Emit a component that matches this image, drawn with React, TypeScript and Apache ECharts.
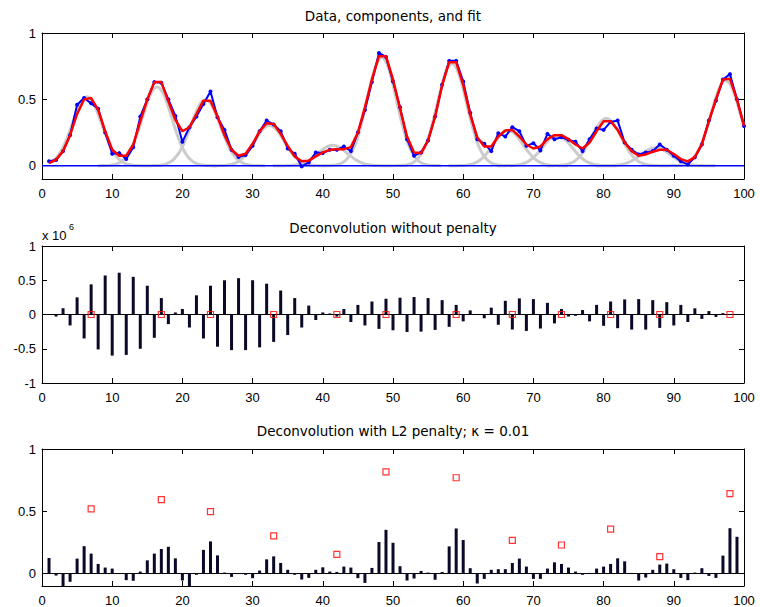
import React, { useEffect, useRef } from "react";
import * as echarts from "echarts";

const FONT = '"Liberation Sans", Arial, Helvetica, sans-serif';
const TITLE_FONT = '"DejaVu Sans", "Liberation Sans", Arial, sans-serif';

// x positions of samples
const sampleX = Array.from({ length: 100 }, (_, i) => i + 1);

// Panel 1: measured data (blue)
const dataValues = [
  0.033, 0.043, 0.11, 0.23, 0.46, 0.51, 0.47, 0.43, 0.25, 0.09,
  0.095, 0.05, 0.14, 0.37, 0.5, 0.63, 0.625, 0.5, 0.375, 0.18,
  0.29, 0.37, 0.465, 0.56, 0.365, 0.27, 0.12, 0.065, 0.08, 0.15,
  0.26, 0.34, 0.31, 0.26, 0.13, 0.09, -0.005, 0.025, 0.1, 0.095,
  0.12, 0.12, 0.145, 0.11, 0.25, 0.42, 0.63, 0.85, 0.82, 0.635,
  0.44, 0.2, 0.075, 0.1, 0.19, 0.37, 0.61, 0.79, 0.79, 0.635,
  0.4, 0.2, 0.165, 0.11, 0.245, 0.22, 0.29, 0.26, 0.15, 0.17,
  0.115, 0.24, 0.2, 0.215, 0.195, 0.18, 0.11, 0.2, 0.28, 0.27,
  0.33, 0.34, 0.175, 0.12, 0.085, 0.1, 0.11, 0.16, 0.12, 0.075,
  0.033, 0.01, 0.063, 0.16, 0.34, 0.49, 0.65, 0.69, 0.5, 0.3,
];

// Panel 1: fit (red)
const fitValues = [
  0.02, 0.045, 0.11, 0.23, 0.39, 0.5, 0.51, 0.42, 0.26, 0.12,
  0.075, 0.075, 0.16, 0.335, 0.5, 0.63, 0.63, 0.485, 0.345, 0.26,
  0.29, 0.39, 0.49, 0.49, 0.37, 0.23, 0.12, 0.075, 0.09, 0.165,
  0.26, 0.32, 0.315, 0.24, 0.15, 0.07, 0.033, 0.038, 0.07, 0.1,
  0.12, 0.125, 0.125, 0.14, 0.25, 0.44, 0.65, 0.825, 0.825, 0.65,
  0.43, 0.22, 0.1, 0.095, 0.19, 0.37, 0.605, 0.78, 0.78, 0.61,
  0.385, 0.215, 0.145, 0.145, 0.22, 0.265, 0.27, 0.22, 0.16, 0.13,
  0.145, 0.2, 0.23, 0.23, 0.2, 0.16, 0.13, 0.175, 0.26, 0.335,
  0.335, 0.27, 0.175, 0.11, 0.075, 0.085, 0.105, 0.12, 0.12, 0.088,
  0.05, 0.033, 0.065, 0.163, 0.335, 0.5, 0.65, 0.655, 0.5, 0.3,
];

// Panel 2: deconvolution without penalty (units of 10^6)
const stemNoPenalty = [
  0.005, -0.03, 0.09, -0.16, 0.25, -0.35, 0.44, -0.51, 0.57, -0.6,
  0.61, -0.59, 0.55, -0.5, 0.42, -0.34, 0.24, -0.14, 0.03, 0.08,
  -0.19, 0.28, -0.35, 0.42, -0.47, 0.5, -0.52, 0.53, -0.52, 0.5,
  -0.48, 0.45, -0.4, 0.35, -0.3, 0.24, -0.19, 0.13, -0.08, 0.03,
  0.015, -0.03, 0.08, -0.11, 0.14, -0.16, 0.19, -0.21, 0.23, -0.23,
  0.245, -0.255, 0.255, -0.25, 0.24, -0.225, 0.21, -0.18, 0.14, -0.1,
  0.06, 0.0, -0.055, 0.1, -0.15, 0.2, -0.22, 0.235, -0.24, 0.225,
  -0.205, 0.17, -0.13, 0.08, -0.03, -0.02, 0.065, -0.1, 0.14, -0.165,
  0.19, -0.2, 0.22, -0.22, 0.225, -0.22, 0.21, -0.195, 0.18, -0.16,
  0.14, -0.11, 0.09, -0.065, 0.05, -0.035, 0.02, 0.0, 0.005, 0,
];

// Panel 3: deconvolution with L2 penalty
const stemL2 = [
  0.125, -0.016, -0.11, -0.066, 0.12, 0.22, 0.16, 0.077, 0.048, 0.04,
  0.003, -0.053, -0.058, 0.016, 0.106, 0.16, 0.197, 0.215, 0.122, -0.056,
  -0.11, -0.01, 0.19, 0.258, 0.146, 0.008, -0.027, -0.003, -0.01, -0.037,
  0.024, 0.114, 0.138, 0.085, 0.03, -0.01, -0.048, -0.035, 0.03, 0.05,
  0.016, 0.013, 0.056, 0.048, -0.037, -0.075, 0.045, 0.253, 0.351, 0.247,
  0.059, -0.056, -0.04, 0.021, 0.008, -0.05, 0.013, 0.218, 0.362, 0.269,
  0.043, -0.08, -0.043, 0.03, 0.035, 0.035, 0.085, 0.12, 0.056, -0.043,
  -0.043, 0.04, 0.09, 0.077, 0.048, 0.016, -0.01, 0.005, 0.04, 0.056,
  0.077, 0.122, 0.098, 0.005, -0.056, -0.032, 0.03, 0.072, 0.08, 0.035,
  -0.035, -0.053, 0.008, 0.043, -0.019, -0.035, 0.144, 0.364, 0.295, 0,
];

// True peaks (red squares)
const peakPositions = [7, 17, 24, 33, 42, 49, 59, 67, 74, 81, 88, 98];
const peakAmplitudes = [0.519, 0.593, 0.497, 0.303, 0.154, 0.816, 0.769, 0.266, 0.229, 0.356, 0.136, 0.641];

// Gray components: centers, shared half-profile (0.5 steps)
const componentCenters = [6.4, 16.4, 23.3, 32.4, 41.4, 48.4, 58.4, 66.4, 73.4, 80.4, 87.4, 97.4];
const componentProfile = [
  1, 0.972, 0.893, 0.775, 0.635, 0.492, 0.36, 0.249, 0.163, 0.101,
  0.059, 0.032, 0.017, 0.008, 0.004, 0.002, 0.001, 0,
];

const yTicksTop = [0, 0.5, 1];
const yTicksMid = [-1, -0.5, 0, 0.5, 1];
const yTicksBottom = [0, 0.5, 1];

const GRID_LEFT = 42;
const GRID_RIGHT = 16;
const grids = [
  { top: 33, height: 146 },
  { top: 246, height: 137 },
  { top: 449, height: 137 },
];

function axesFor(g: number, ymin: number, ymax: number, ticks: number[]) {
  const line = { show: true, onZero: false, lineStyle: { color: "#000", width: 1 } };
  const tick = { show: true, inside: true, length: 5, lineStyle: { color: "#000", width: 1 } };
  const xb = {
    type: "value", gridIndex: g, min: 0, max: 100, interval: 10, position: "bottom",
    axisLine: line, axisTick: tick,
    axisLabel: { show: true, color: "#000", fontSize: 13, fontFamily: FONT, margin: 8 },
    splitLine: { show: false },
  };
  const xt = { ...xb, position: "top", axisLabel: { show: false } };
  const yl = {
    type: "value", gridIndex: g, min: ymin, max: ymax, position: "left",
    axisLine: line,
    axisTick: { ...tick, customValues: ticks },
    axisLabel: {
      show: true, color: "#000", fontSize: 13, fontFamily: FONT, margin: 6,
      customValues: ticks, formatter: (v: number) => String(v),
    },
    splitLine: { show: false },
  };
  const yr = { ...yl, position: "right", axisLabel: { show: false, customValues: ticks } };
  return { x: [xb, xt], y: [yl, yr] };
}

export default function App() {
  const ref = useRef<HTMLDivElement>(null);
  useEffect(() => {
    if (!ref.current) return;
    const chart = echarts.init(ref.current, undefined, { renderer: "svg" });

    const a0 = axesFor(0, -0.1, 1, yTicksTop);
    const a1 = axesFor(1, -1, 1, yTicksMid);
    const a2 = axesFor(2, -0.1, 1, yTicksBottom);

    const series: any[] = [];

    // gray components
    componentCenters.forEach((c, i) => {
      const pts: number[][] = [];
      const n = componentProfile.length;
      for (let k = -(n - 1); k <= n - 1; k++) {
        const x = c + k * 0.5;
        if (x < 1 || x > 100) continue;
        pts.push([x, peakAmplitudes[i] * componentProfile[Math.abs(k)]]);
      }
      series.push({
        type: "line", xAxisIndex: 0, yAxisIndex: 0, data: pts, smooth: true,
        showSymbol: false, lineStyle: { color: "#cccccc", width: 3 }, z: 1, silent: true,
      });
    });

    // blue baseline
    series.push({
      type: "line", xAxisIndex: 0, yAxisIndex: 0, data: [[0, 0], [100, 0]],
      showSymbol: false, lineStyle: { color: "#0000ff", width: 1.5 }, z: 2,
    });
    // blue data
    series.push({
      type: "line", xAxisIndex: 0, yAxisIndex: 0,
      data: sampleX.map((x, i) => [x, dataValues[i]]),
      symbol: "circle", symbolSize: 4, showSymbol: true,
      itemStyle: { color: "#0000ff" }, lineStyle: { color: "#0000ff", width: 2 }, z: 3,
    });
    // red fit
    series.push({
      type: "line", xAxisIndex: 0, yAxisIndex: 0,
      data: sampleX.map((x, i) => [x, fitValues[i]]),
      showSymbol: false, lineStyle: { color: "#ff0000", width: 2.5 }, z: 4,
    });

    // panel 2
    series.push({
      type: "line", xAxisIndex: 2, yAxisIndex: 2, data: [[0, 0], [100, 0]],
      showSymbol: false, lineStyle: { color: "#000", width: 1 }, z: 2,
    });
    series.push({
      type: "bar", xAxisIndex: 2, yAxisIndex: 2, barWidth: 3,
      data: sampleX.map((x, i) => [x, stemNoPenalty[i]]),
      itemStyle: { color: "#0a0a28" }, z: 3,
    });
    series.push({
      type: "scatter", xAxisIndex: 2, yAxisIndex: 2, symbol: "rect", symbolSize: 6,
      data: peakPositions.map((x) => [x, 0]),
      itemStyle: { color: "rgba(0,0,0,0)", borderColor: "#ff0000", borderWidth: 1.2 }, z: 5,
    });

    // panel 3
    series.push({
      type: "line", xAxisIndex: 4, yAxisIndex: 4, data: [[0, 0], [100, 0]],
      showSymbol: false, lineStyle: { color: "#000", width: 1 }, z: 2,
    });
    series.push({
      type: "bar", xAxisIndex: 4, yAxisIndex: 4, barWidth: 3,
      data: sampleX.map((x, i) => [x, stemL2[i]]),
      itemStyle: { color: "#0a0a28" }, z: 3,
    });
    series.push({
      type: "scatter", xAxisIndex: 4, yAxisIndex: 4, symbol: "rect", symbolSize: 6,
      data: peakPositions.map((x, i) => [x, peakAmplitudes[i]]),
      itemStyle: { color: "rgba(0,0,0,0)", borderColor: "#ff0000", borderWidth: 1.2 }, z: 5,
    });

    const titleStyle = (text: string, y: number) => ({
      type: "text", x: 393, y,
      style: {
        text, fill: "#000", font: `13.5px ${TITLE_FONT}`,
        align: "center", verticalAlign: "middle", textAlign: "center", textVerticalAlign: "middle",
      },
    });

    chart.setOption({
      animation: false,
      backgroundColor: "#ffffff",
      grid: grids.map((g) => ({ left: GRID_LEFT, right: GRID_RIGHT, top: g.top, height: g.height, containLabel: false })),
      xAxis: [...a0.x, ...a1.x, ...a2.x],
      yAxis: [...a0.y, ...a1.y, ...a2.y],
      series,
      graphic: [
        titleStyle("Data, components, and fit", 16),
        titleStyle("Deconvolution without penalty", 228),
        titleStyle("Deconvolution with L2 penalty; \u03ba = 0.01", 431),
        {
          type: "text", x: 42, y: 235,
          style: { text: "x 10", fill: "#000", font: `13px ${FONT}`, align: "left", verticalAlign: "middle", textAlign: "left", textVerticalAlign: "middle" },
        },
        {
          type: "text", x: 69, y: 227,
          style: { text: "6", fill: "#000", font: `9px ${FONT}`, align: "left", verticalAlign: "middle", textAlign: "left", textVerticalAlign: "middle" },
        },
      ],
    });
    return () => chart.dispose();
  }, []);

  return (
    <div
      ref={ref}
      style={{ position: "absolute", left: 0, top: 0, width: 760, height: 607, background: "#fff" }}
    />
  );
}
